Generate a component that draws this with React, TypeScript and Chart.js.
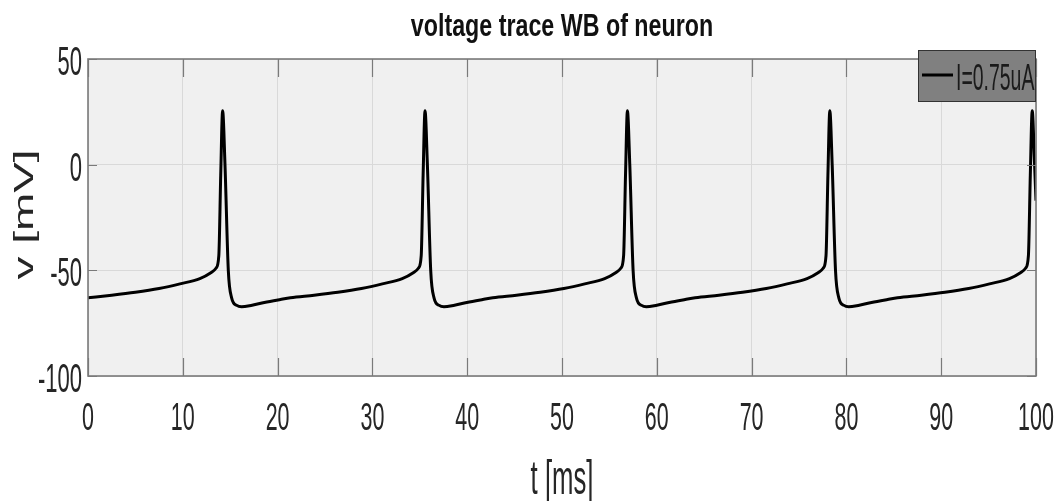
import React, { useEffect, useRef } from "react";
import { Chart, registerables } from "chart.js";

Chart.register(...registerables);

const TITLE = "voltage trace WB of neuron";
const X_LABEL = "t [ms]";
const Y_LABEL = "v [mV]";
const LEGEND_LABEL = "I=0.75uA";

const X_TICKS = [0, 10, 20, 30, 40, 50, 60, 70, 80, 90, 100];
const Y_TICKS = [-100, -50, 0, 50];

// time (ms)
const tValues = [
  0, 2.5, 5, 7.5, 9.7, 11.8, 13.0, 13.5, 13.8, 14.0, 14.2, 14.45, 14.8, 15.15, 15.7, 16.2, 17.2, 18.6, 20.3,
  21.35, 23.85, 26.35, 28.85, 31.05, 33.15, 34.35, 34.85, 35.15, 35.35, 35.55, 35.8, 36.15, 36.5, 37.05, 37.55, 38.55, 39.95, 41.65,
  42.7, 45.2, 47.7, 50.2, 52.4, 54.5, 55.7, 56.2, 56.5, 56.7, 56.9, 57.15, 57.5, 57.85, 58.4, 58.9, 59.9, 61.3, 63.0,
  64.05, 66.55, 69.05, 71.55, 73.75, 75.85, 77.05, 77.55, 77.85, 78.05, 78.25, 78.5, 78.85, 79.2, 79.75, 80.25, 81.25, 82.65, 84.35,
  85.4, 87.9, 90.4, 92.9, 95.1, 97.2, 98.4, 98.9, 99.2, 99.4, 99.6, 99.85, 100.0,
];
// membrane voltage (mV)
const vValues = [
  -63.0, -61.8, -60.4, -58.6, -56.4, -53.9, -51.0, -49.0, -43.0, -5.0, 25.5, 0.0, -50.0, -63.0, -66.6, -67.2, -66.6, -65.2, -63.8,
  -63.0, -61.8, -60.4, -58.6, -56.4, -53.9, -51.0, -49.0, -43.0, -5.0, 25.5, 0.0, -50.0, -63.0, -66.6, -67.2, -66.6, -65.2, -63.8,
  -63.0, -61.8, -60.4, -58.6, -56.4, -53.9, -51.0, -49.0, -43.0, -5.0, 25.5, 0.0, -50.0, -63.0, -66.6, -67.2, -66.6, -65.2, -63.8,
  -63.0, -61.8, -60.4, -58.6, -56.4, -53.9, -51.0, -49.0, -43.0, -5.0, 25.5, 0.0, -50.0, -63.0, -66.6, -67.2, -66.6, -65.2, -63.8,
  -63.0, -61.8, -60.4, -58.6, -56.4, -53.9, -51.0, -49.0, -43.0, -5.0, 25.5, 0.0, -17.0,
];

const FONT = '"Liberation Sans", Arial, Helvetica, sans-serif';

function drawText(
  ctx: CanvasRenderingContext2D,
  s: string,
  x: number,
  y: number,
  size: number,
  bold: boolean,
  sx: number,
  align: CanvasTextAlign,
  rot = 0,
  color = "#262626"
) {
  ctx.save();
  ctx.translate(x, y);
  if (rot) ctx.rotate(rot);
  ctx.scale(sx, 1);
  ctx.font = `${bold ? "bold " : ""}${size}px ${FONT}`;
  ctx.textAlign = align;
  ctx.textBaseline = "alphabetic";
  ctx.fillStyle = color;
  ctx.fillText(s, 0, 0);
  ctx.restore();
}

const matlabPlugin = {
  id: "matlabLook",
  beforeDraw(chart: any) {
    const { ctx, chartArea: a } = chart;
    ctx.save();
    ctx.fillStyle = "#ffffff";
    ctx.fillRect(0, 0, chart.width, chart.height);
    ctx.fillStyle = "#f0f0f0";
    ctx.fillRect(a.left, a.top, a.right - a.left, a.bottom - a.top);
    ctx.restore();
  },
  afterDraw(chart: any) {
    const { ctx, chartArea: a } = chart;
    const xs = chart.scales.x;
    const ys = chart.scales.y;
    ctx.save();
    // inward ticks
    ctx.strokeStyle = "#7a7a7a";
    ctx.lineWidth = 1.2;
    ctx.beginPath();
    X_TICKS.forEach((v) => {
      const px = Math.round(xs.getPixelForValue(v)) + 0.5;
      ctx.moveTo(px, a.bottom);
      ctx.lineTo(px, a.bottom - 18);
      ctx.moveTo(px, a.top);
      ctx.lineTo(px, a.top + 18);
    });
    Y_TICKS.forEach((v) => {
      const py = Math.round(ys.getPixelForValue(v)) + 0.5;
      ctx.moveTo(a.left, py);
      ctx.lineTo(a.left + 9, py);
      ctx.moveTo(a.right, py);
      ctx.lineTo(a.right - 9, py);
    });
    ctx.stroke();
    // box
    ctx.strokeStyle = "#7a7a7a";
    ctx.lineWidth = 1.6;
    ctx.strokeRect(a.left, a.top, a.right - a.left, a.bottom - a.top);
    ctx.restore();

    // tick labels
    X_TICKS.forEach((v) => {
      drawText(ctx, String(v), xs.getPixelForValue(v), 430, 39, false, 0.55, "center");
    });
    Y_TICKS.forEach((v) => {
      drawText(ctx, String(v), 82, ys.getPixelForValue(v) + 16, 40, false, 0.55, "right");
    });

    // titles
    drawText(ctx, TITLE, (a.left + a.right) / 2, 36, 31, true, 0.75, "center", 0, "#111111");
    drawText(ctx, X_LABEL, (a.left + a.right) / 2, 494, 48, false, 0.535, "center");
    drawText(ctx, Y_LABEL, 33, (a.top + a.bottom) / 2 - 3, 27, false, 1.7, "center", -Math.PI / 2);

    // legend
    ctx.save();
    ctx.fillStyle = "#808080";
    ctx.fillRect(918, 50, 117, 51);
    ctx.strokeStyle = "#333333";
    ctx.lineWidth = 1;
    ctx.strokeRect(918.5, 50.5, 117, 51);
    ctx.strokeStyle = "#000000";
    ctx.lineWidth = 3;
    ctx.beginPath();
    ctx.moveTo(922, 75);
    ctx.lineTo(953, 75);
    ctx.stroke();
    ctx.restore();
    drawText(ctx, LEGEND_LABEL, 956, 90, 36, false, 0.54, "left", 0, "#1a1a1a");
  },
};

export default function App() {
  const ref = useRef<HTMLCanvasElement | null>(null);
  useEffect(() => {
    if (!ref.current) return;
    const data = tValues.map((t, i) => ({ x: t, y: vValues[i] }));
    const chart = new Chart(ref.current, {
      type: "line",
      data: {
        datasets: [
          {
            label: LEGEND_LABEL,
            data,
            borderColor: "#000000",
            borderWidth: 3,
            pointRadius: 0,
            cubicInterpolationMode: "monotone",
            fill: false,
          },
        ],
      },
      options: {
        animation: false,
        responsive: true,
        maintainAspectRatio: false,
        layout: { padding: { left: 88, top: 59, right: 22, bottom: 125 } },
        plugins: { legend: { display: false }, tooltip: { enabled: false }, title: { display: false } },
        scales: {
          x: {
            type: "linear",
            min: 0,
            max: 100,
            ticks: { display: false, stepSize: 10 },
            grid: { color: "#d9d9d9", lineWidth: 1, drawTicks: false },
            border: { display: false },
          },
          y: {
            type: "linear",
            min: -100,
            max: 50,
            ticks: { display: false, stepSize: 50 },
            grid: { color: "#d9d9d9", lineWidth: 1, drawTicks: false },
            border: { display: false },
          },
        },
      },
      plugins: [matlabPlugin],
    });
    return () => chart.destroy();
  }, []);
  return (
    <div style={{ position: "absolute", left: 0, top: 0, width: 1058, height: 501, background: "#fff" }}>
      <canvas ref={ref} />
    </div>
  );
}
